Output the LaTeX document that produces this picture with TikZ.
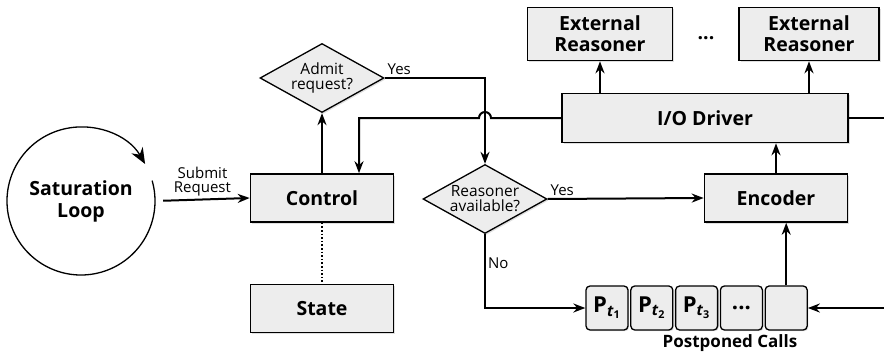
\documentclass[tikz,border=0pt]{standalone}
\usepackage{fontspec}
\setmainfont{Open Sans}
\usepackage{tikz}
\usetikzlibrary{arrows.meta,shapes.geometric,shadows,positioning}

\begin{document}
\begin{tikzpicture}[
    x=1pt, y=-1pt,
    box/.style={rectangle, draw, line width=1.6pt, fill=black!7, inner sep=0pt,
        minimum width=143pt, minimum height=48pt, align=center,
        font=\bfseries\fontsize{19.5}{21}\selectfont,
        drop shadow={shadow xshift=1.5pt, shadow yshift=-1.5pt, opacity=0.25}},
    decision/.style={diamond, draw, line width=1.3pt, fill=black!7, inner sep=0pt,
        aspect=1.8, minimum width=124pt, minimum height=69pt, align=center,
        font=\fontsize{15.5}{15}\selectfont,
        drop shadow={shadow xshift=1.5pt, shadow yshift=-1.5pt, opacity=0.25}},
    cell/.style={rectangle, draw, line width=1.3pt, fill=black!7, rounded corners=4pt,
        inner sep=0pt, minimum width=42pt, minimum height=44pt,
        font=\bfseries\fontsize{22}{24}\selectfont,
        drop shadow={shadow xshift=1.2pt, shadow yshift=-1.2pt, opacity=0.25}},
    lbl/.style={font=\fontsize{15}{14}\selectfont, align=center, inner sep=2pt},
    arrow/.style={-{Stealth[length=12pt, width=9pt]}, line width=2pt}
]
\useasboundingbox (0,0) rectangle (884,356);

% Nodes
\node[circle, minimum size=148pt, align=center,
      font=\bfseries\fontsize{19.5}{22}\selectfont] (loop) at (81,201) {Saturation\\Loop};
\node[box] (control) at (322,198) {Control};
\node[box, below=61pt of control] (state) {State};
\node[decision] (admit) at (322,78) {Admit\\request?};
\node[decision] (reasoner) at (485,199) {Reasoner\\available?};
\node[box] (encoder) at (776,198) {Encoder};
\node[box, minimum width=286pt, minimum height=49pt] (io) at (705,118) {I/O Driver};
\node[box, minimum width=145pt, minimum height=53pt] (ext1) at (600,34) {External\\Reasoner};
\node[box, minimum width=140pt, minimum height=53pt] (ext2) at (809,34) {External\\Reasoner};
\node[font=\bfseries\fontsize{19.5}{21}\selectfont] (dots) at (706,38) {...};

% Postponed calls queue
\node[cell] (q1) at (607,308) {P\textsubscript{\textit{t}\textsubscript{1}}};
\node[cell, right=1.5pt of q1] (q2) {P\textsubscript{\textit{t}\textsubscript{2}}};
\node[cell, right=1.5pt of q2] (q3) {P\textsubscript{\textit{t}\textsubscript{3}}};
\node[cell, right=1.5pt of q3] (q4) {...};
\node[cell, right=1.5pt of q4] (q5) {};
\node[font=\bfseries\fontsize{17}{20}\selectfont] (qname) at (730,343) {Postponed Calls};

\coordinate (ctrlin) at (359,118);
\coordinate (ioout) at (884,118);
\coordinate (qin) at (884,308);

% Saturation loop arrow
\draw[line width=1.3pt, -{Stealth[length=16pt, width=13pt]}]
    ([shift={(16:74pt)}]loop.center) arc[start angle=376, end angle=30, radius=74pt];

% Arrows
\draw[arrow, shorten <=8pt] (loop.east) -- node[lbl, above] {Submit\\Request} (control.west);
\draw[arrow] (control.north) -- (admit.south);
\draw[arrow] (admit.east) -| node[lbl, pos=0, anchor=south west] {Yes} (reasoner.north);
\draw[arrow] (io.west) -- (491,118) arc[start angle=0, end angle=180, radius=6pt]
    -- (ctrlin) -- (ctrlin |- control.north);
\draw[arrow] (reasoner.east) -- node[lbl, pos=0, anchor=south west] {Yes} (encoder.west);
\draw[arrow] (reasoner.south) |- node[lbl, pos=0.2, anchor=west] {No} (q1.west);
\draw[arrow] (q5.north) -- (q5.north |- encoder.south);
\draw[arrow] (encoder.north) -- (encoder.north |- io.south);
\draw[arrow] (ext1.south |- io.north) -- (ext1.south);
\draw[arrow] (ext2.south |- io.north) -- (ext2.south);
\draw[line width=2pt] (io.east) -- (ioout);
\draw[arrow] (qin) -- (q5.east);
\draw[line width=1.6pt, dotted] (control.south) -- (state.north);

\end{tikzpicture}
\end{document}
